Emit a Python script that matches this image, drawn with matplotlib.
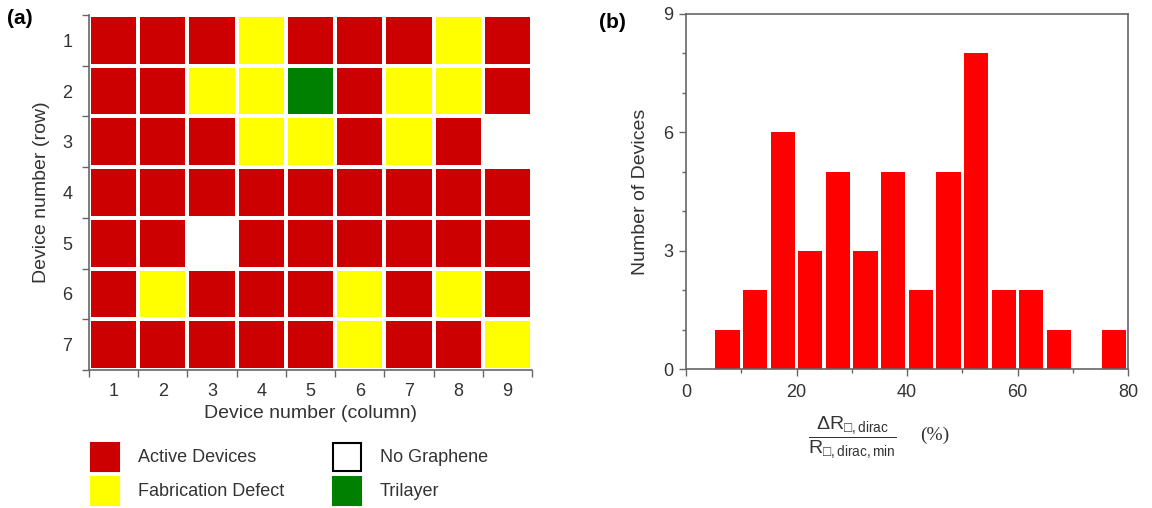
import numpy as np
import matplotlib
matplotlib.use('Agg')
import matplotlib.pyplot as plt
from matplotlib.colors import ListedColormap
from matplotlib.patches import Rectangle

plt.rcParams['font.family'] = ['Liberation Sans', 'DejaVu Sans']
plt.rcParams['mathtext.fontset'] = 'custom'
plt.rcParams['mathtext.rm'] = 'Liberation Sans'
plt.rcParams['mathtext.it'] = 'Liberation Sans:italic'
plt.rcParams['mathtext.bf'] = 'Liberation Sans:bold'
plt.rcParams['mathtext.fallback'] = 'stixsans'

# device status codes: 0 active, 1 fabrication defect, 2 no graphene, 3 trilayer
status_names = ['Active Devices', 'Fabrication Defect', 'No Graphene', 'Trilayer']
status_colors = ['#cc0000', '#ffff00', '#ffffff', '#008000']

device_map = [
    [0, 0, 0, 1, 0, 0, 0, 1, 0],
    [0, 0, 1, 1, 3, 0, 1, 1, 0],
    [0, 0, 0, 1, 1, 0, 1, 0, 2],
    [0, 0, 0, 0, 0, 0, 0, 0, 0],
    [0, 0, 2, 0, 0, 0, 0, 0, 0],
    [0, 1, 0, 0, 0, 1, 0, 1, 0],
    [0, 0, 0, 0, 0, 1, 0, 0, 1],
]
row_labels = ['1', '2', '3', '4', '5', '6', '7']
col_labels = ['1', '2', '3', '4', '5', '6', '7', '8', '9']

# histogram of relative Dirac-point resistance change
bin_centers = [7.5, 12.5, 17.5, 22.5, 27.5, 32.5, 37.5, 42.5,
               47.5, 52.5, 57.5, 62.5, 67.5, 72.5, 77.5]
device_counts = [1, 2, 6, 3, 5, 3, 5, 2, 5, 8, 2, 2, 1, 0, 1]

W, H = 1152, 508
fig = plt.figure(figsize=(W / 100, H / 100), dpi=100)
ax1 = fig.add_axes([89 / W, 1 - 370 / H, 443 / W, 355 / H])
ax2 = fig.add_axes([686 / W, 1 - 369 / H, 442 / W, 355 / H])

spine_col = '#666666'
text_col = '#333333'

# (a) device map
grid = np.array(device_map)
nrow, ncol = grid.shape
ax1.pcolormesh(np.arange(ncol + 1) + 0.5, np.arange(nrow + 1) + 0.5, grid,
               cmap=ListedColormap(status_colors), vmin=-0.5, vmax=3.5,
               edgecolors='white', linewidth=1.5)
ax1.set_xlim(0.5, ncol + 0.5)
ax1.set_ylim(nrow + 0.5, 0.5)
ax1.set_xticks(np.arange(ncol + 1) + 0.5)
ax1.set_xticklabels([])
ax1.set_yticks(np.arange(nrow + 1) + 0.5)
ax1.set_yticklabels([])
ax1.set_xticks(np.arange(1, ncol + 1), minor=True)
ax1.set_xticklabels(col_labels, minor=True)
ax1.set_yticks(np.arange(1, nrow + 1), minor=True)
ax1.set_yticklabels(row_labels, minor=True)
ax1.tick_params(which='major', direction='out', length=5, width=1, color=spine_col)
ax1.tick_params(axis='x', which='minor', length=0, labelsize=13, labelcolor=text_col, pad=9)
ax1.tick_params(axis='y', which='minor', length=0, labelsize=13, labelcolor=text_col, pad=12)
for s in ['top', 'right']:
    ax1.spines[s].set_visible(False)
for s in ['left', 'bottom']:
    ax1.spines[s].set_color(spine_col)
    ax1.spines[s].set_linewidth(1.2)
ax1.set_xlabel('Device number (column)', fontsize=14, color=text_col, labelpad=4)
ax1.set_ylabel('Device number (row)', fontsize=14, color=text_col, labelpad=9)

# legend drawn as a 2x2 block under the map
legend_cols = [0, 0, 1, 1]
legend_rows = [0, 1, 0, 1]
for name, color, c, r in zip(status_names, status_colors, legend_cols, legend_rows):
    x0 = 91 + c * 242
    yc = 457 + r * 34
    edge = 'black' if color == '#ffffff' else color
    fig.add_artist(Rectangle((x0 / W, 1 - (yc + 14) / H), 28 / W, 28 / H,
                             transform=fig.transFigure, facecolor=color,
                             edgecolor=edge, linewidth=1.5))
    fig.text((x0 + 47) / W, 1 - yc / H, name, fontsize=13, color=text_col, va='center')

# (b) histogram
ax2.bar(bin_centers, device_counts, width=4.4, color='#ff0000')
ax2.set_xlim(0, 80)
ax2.set_ylim(0, 9)
ax2.set_xticks([0, 20, 40, 60, 80])
ax2.set_xticks([10, 30, 50, 70], minor=True)
ax2.set_yticks([0, 3, 6, 9])
ax2.set_yticks([1, 2, 4, 5, 7, 8], minor=True)
ax2.tick_params(which='major', direction='out', length=5, width=1, color=spine_col,
                labelsize=13, labelcolor=text_col)
ax2.tick_params(which='minor', direction='out', length=3, width=1, color=spine_col)
ax2.tick_params(axis='x', which='major', pad=6)
ax2.tick_params(axis='y', which='major', pad=4)
for s in ax2.spines.values():
    s.set_color(spine_col)
    s.set_linewidth(1.2)
ax2.set_ylabel('Number of Devices', fontsize=14, color=text_col, labelpad=10)
ax2.set_xlabel('$\\dfrac{\\Delta \\mathrm{R}_{\u25a1,\\mathrm{dirac}}}'
               '{\\mathrm{R}_{\u25a1,\\mathrm{dirac,min}}}$',
               fontsize=14, color=text_col)
ax2.xaxis.set_label_coords((852 - 686) / 442, -0.13)
ax2.text((935 - 686) / 442, -(435 - 369) / 355, '(%)', transform=ax2.transAxes,
         family='Liberation Serif', fontsize=14, color=text_col, ha='center', va='center')

# panel labels
fig.text(20 / W, 1 - 18 / H, '(a)', fontsize=15, fontweight='bold', ha='center', va='center')
fig.text(612 / W, 1 - 22 / H, '(b)', fontsize=15, fontweight='bold', ha='center', va='center')

fig.savefig('out.png', dpi=100)
